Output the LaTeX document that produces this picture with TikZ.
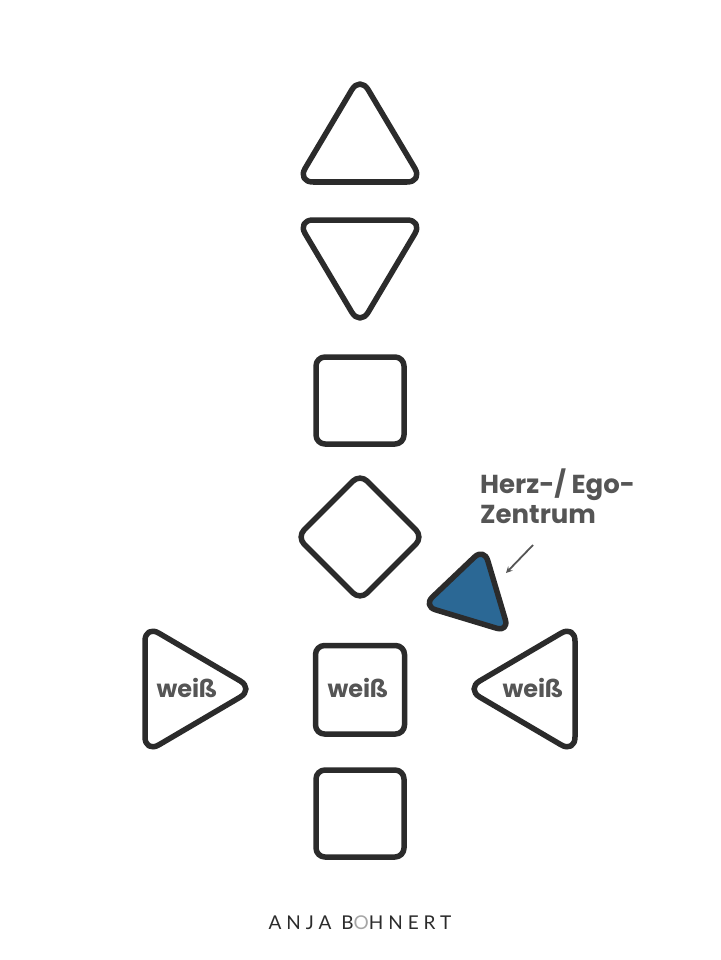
\documentclass[tikz,border=0pt]{standalone}
\usepackage{fontspec}
\setmainfont{Poppins}
\newfontfamily\logofont{Lato}[LetterSpace=26]
\usetikzlibrary{arrows}
\usetikzlibrary{calc}

\definecolor{linie}{HTML}{2B2B2B}
\definecolor{grau}{HTML}{555555}
\definecolor{herzblau}{HTML}{2B6895}

\begin{document}
\begin{tikzpicture}[x=1pt, y=-1pt,
        zentrum/.style={draw=linie, line width=5.5pt, line join=round, rounded corners=16pt},
        kasten/.style={draw=linie, line width=5.5pt, line join=round, rounded corners=9pt},
        weiss/.style={text=grau, font=\bfseries\fontsize{24}{28}\selectfont, anchor=base},
        notiz/.style={text=grau, font=\bfseries\fontsize{26}{30}\selectfont, anchor=base west, align=left, inner sep=0pt}]
        \useasboundingbox (0,0) rectangle (720,960);

        % Kopf und Ajna
        \coordinate (K1) at (360,76);
        \coordinate (K2) at (297,182);
        \coordinate (K3) at (423,182);
        \coordinate (A1) at (297,220);
        \coordinate (A2) at (423,220);
        \coordinate (A3) at (360,326);
        \draw[zentrum] (K1) -- (K2) -- (K3) -- cycle;
        \draw[zentrum] (A1) -- (A2) -- (A3) -- cycle;

        % Kehle und G
        \draw[kasten] (316,357) rectangle (404,444);
        \coordinate (G) at (360,537);
        \draw[kasten, rounded corners=10pt] ($(G)+(0,-63)$) -- ($(G)+(63,0)$) -- ($(G)+(0,63)$) -- ($(G)+(-63,0)$) -- cycle;

        % Herz
        \coordinate (H1) at (484,548);
        \coordinate (H2) at (423,606);
        \coordinate (H3) at (509,632);
        \draw[zentrum, fill=herzblau, rounded corners=13pt] (H1) -- (H2) -- (H3) -- cycle;
        \node[notiz] (herz) at (480,523) {Herz-/ Ego-\\Zentrum};
        \coordinate (pfeilanfang) at (533,545);
        \coordinate (pfeilende) at (506,573);
        \draw[->, >=stealth, grau, line width=1.8pt] (pfeilanfang) -- (pfeilende);

        % Milz, Sakral, Solarplexus
        \draw[zentrum] (145,625) -- (254,689) -- (145,753) -- cycle;
        \draw[kasten] (315.5,645.5) rectangle (404.5,734);
        \draw[zentrum] (575,625) -- (466,689) -- (575,753) -- cycle;
        \node[weiss] (milz) at (187,697) {weiß};
        \node[weiss] (sakral) at (358,697) {weiß};
        \node[weiss] (solar) at (533,697) {weiß};

        % Wurzel
        \draw[kasten] (316,770) rectangle (404,857);

        \node[text=linie, font=\logofont\fontsize{19}{22}\selectfont, anchor=base] (logo) at (360,929) {ANJA B\textcolor{gray!70}{O}HNERT};
    \end{tikzpicture}
\end{document}
